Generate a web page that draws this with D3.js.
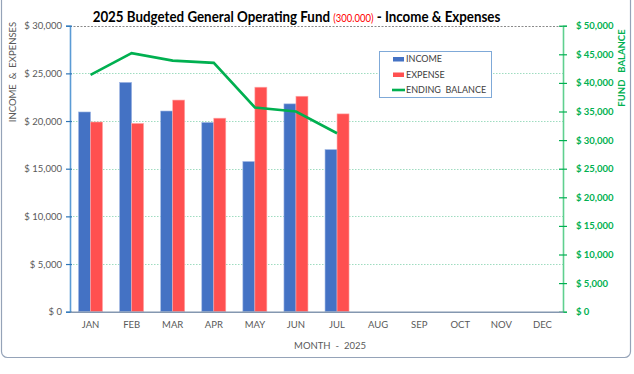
<!DOCTYPE html>
<html><head><meta charset="utf-8">
<script src="https://cdn.jsdelivr.net/npm/d3@7"></script>
<style>html,body{margin:0;padding:0;background:#fff;}svg{display:block;}</style>
</head><body>
<svg id="chart" width="634" height="374"></svg>
<script>
const months = ["JAN","FEB","MAR","APR","MAY","JUN","JUL","AUG","SEP","OCT","NOV","DEC"];
const income = [20950, 24050, 21050, 19850, 15750, 21800, 17000];
const expense = [19900, 19750, 22200, 20300, 23550, 22600, 20750];
const balance = [41400, 45200, 43900, 43500, 35700, 35000, 31200];
const leftTicks = [0, 5000, 10000, 15000, 20000, 25000, 30000];
const rightTicks = [0,5000,10000,15000,20000,25000,30000,35000,40000,45000,50000];
const seriesNames = ["INCOME","EXPENSE","ENDING  BALANCE"];

const colors = {income:"#4472C4", expense:"#FF5050", balance:"#00B050"};
const font = "Lato, 'Open Sans', sans-serif";
const svg = d3.select("#chart");
const L = 70, R = 563, T = 25.7, B = 311.7;

// frame
svg.append("rect").attr("x",1.5).attr("y",-10).attr("width",629).attr("height",367.5)
  .attr("rx",6).attr("fill","none").attr("stroke","#95a3b8").attr("stroke-width",1.2);

const x = d3.scaleBand().domain(months).range([L,R]);
const yL = d3.scaleLinear().domain([0,30000]).range([B,T]);
const yR = d3.scaleLinear().domain([0,50000]).range([B,T]);
const fmt = v => "$ " + d3.format(",")(v);

// gridlines
svg.append("g").selectAll("line").data(leftTicks.filter(d=>d>0)).join("line")
  .attr("x1",L).attr("x2",R).attr("y1",d=>Math.round(yL(d))+0.5).attr("y2",d=>Math.round(yL(d))+0.5)
  .attr("stroke",d=>d===30000?"#8a8a8a":"#9fdcc0")
  .attr("stroke-dasharray",d=>d===30000?"2,1.5":"1.5,1.5").attr("stroke-width",1);

// bars
const bw = 12;
const barG = svg.append("g");
barG.selectAll(".inc").data(income).join("rect")
  .attr("x",(d,i)=>x(months[i])+x.bandwidth()/2-bw).attr("width",bw)
  .attr("y",d=>yL(d)).attr("height",d=>B-yL(d))
  .attr("fill",colors.income).attr("stroke","#9db5e3").attr("stroke-width",0.6);
barG.selectAll(".exp").data(expense).join("rect")
  .attr("x",(d,i)=>x(months[i])+x.bandwidth()/2).attr("width",bw)
  .attr("y",d=>yL(d)).attr("height",d=>B-yL(d))
  .attr("fill",colors.expense).attr("stroke","#ffaaaa").attr("stroke-width",0.6);

// line
const line = d3.line().x((d,i)=>x(months[i])+x.bandwidth()/2).y(d=>yR(d));
svg.append("path").datum(balance).attr("d",line).attr("fill","none")
  .attr("stroke",colors.balance).attr("stroke-width",2.6).attr("stroke-linejoin","miter");

// left axis
const gl = svg.append("g").attr("transform",`translate(${L},0)`)
  .call(d3.axisLeft(yL).tickValues(leftTicks).tickFormat(fmt).tickSize(4).tickPadding(4));
gl.select(".domain").attr("stroke","#5B9BD5").attr("stroke-width",1.6);
gl.selectAll(".tick line").attr("stroke","#2E75B6").attr("x2",-4).attr("x1",2).attr("stroke-width",1.2);
gl.selectAll(".tick text").attr("font-family",font).attr("font-size",9.5).attr("fill","#595959");

// right axis
const gr = svg.append("g").attr("transform",`translate(${R},0)`)
  .call(d3.axisRight(yR).tickValues(rightTicks).tickFormat(fmt).tickSize(4).tickPadding(9));
gr.select(".domain").attr("stroke","#5fd08f").attr("stroke-width",1.6);
gr.selectAll(".tick line").attr("stroke","#00B050").attr("x1",-4).attr("x2",4).attr("stroke-width",1.2);
gr.selectAll(".tick text").attr("font-family",font).attr("font-size",9.5).attr("fill","#00B050").attr("font-weight","bold");

// bottom axis
const gb = svg.append("g").attr("transform",`translate(0,${B})`)
  .call(d3.axisBottom(x).tickSize(0).tickPadding(10));
gb.select(".domain").attr("stroke","#8497B0").attr("stroke-width",1.4);
gb.selectAll(".tick text").attr("font-family",font).attr("font-size",9.5).attr("fill","#595959");

// axis titles
svg.append("text").attr("transform","translate(16,72) rotate(-90)").attr("text-anchor","middle")
  .attr("font-family",font).attr("font-size",9.5).attr("fill","#595959").attr("xml:space","preserve").text("INCOME  &  EXPENSES");
svg.append("text").attr("transform","translate(625,68) rotate(-90)").attr("text-anchor","middle")
  .attr("font-family",font).attr("font-size",9.5).attr("font-weight","bold").attr("fill","#00B050").attr("xml:space","preserve").text("FUND   BALANCE");
svg.append("text").attr("x",330).attr("y",349).attr("text-anchor","middle")
  .attr("font-family",font).attr("font-size",9.5).attr("fill","#595959").attr("xml:space","preserve").text("MONTH  -  2025");

// title (compressed horizontally to mimic the narrow original face)
const title = svg.append("text").attr("x",0).attr("y",0).attr("text-anchor","middle")
  .attr("font-family",font).attr("font-weight","bold").attr("font-size",15.5).attr("fill","#000")
  .attr("xml:space","preserve");
title.append("tspan").text("2025 Budgeted General Operating Fund ");
title.append("tspan").attr("fill","#FF0000").attr("font-weight","normal").attr("font-size",11).text("(300.000)");
title.append("tspan").text(" - Income & Expenses");
const tw = title.node().getComputedTextLength();
const sx = Math.min(1, 408 / tw);
title.attr("transform",`translate(296.5,22) scale(${sx},1)`);

// legend
const lg = svg.append("g");
lg.append("rect").attr("x",379.5).attr("y",51.5).attr("width",112).attr("height",46)
  .attr("fill","#fff").attr("stroke","#7fa9d8").attr("stroke-width",1);
const ly = [59, 74.5, 90];
seriesNames.forEach((n,i)=>{
  if(i<2){
    lg.append("rect").attr("x",393).attr("y",ly[i]-2).attr("width",11).attr("height",4.5)
      .attr("fill",i===0?colors.income:colors.expense);
  } else {
    lg.append("line").attr("x1",392).attr("x2",405).attr("y1",ly[i]).attr("y2",ly[i])
      .attr("stroke",colors.balance).attr("stroke-width",2.6);
  }
  lg.append("text").attr("x",406).attr("y",ly[i]+3.3).attr("font-family",font).attr("font-size",9)
    .attr("fill","#404040").attr("xml:space","preserve").text(n);
});
</script>
</body></html>
